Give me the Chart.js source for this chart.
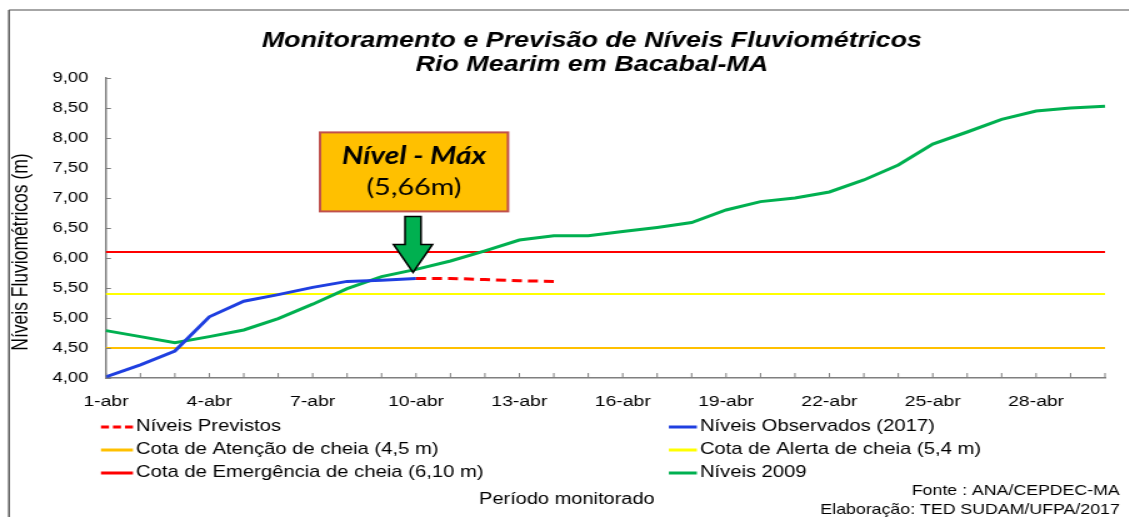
<!DOCTYPE html>
<html>
<head>
<meta charset="utf-8">
<script src="https://cdn.jsdelivr.net/npm/chart.js@4.4.1/dist/chart.umd.min.js"></script>
<style>
  html, body { margin: 0; padding: 0; background: #fff; overflow: hidden; }
  #wrap { width: 1129px; height: 517px; overflow: hidden; }
  /* the original picture is stretched sideways, so the canvas is too */
  #grafico { transform: scaleX(1.25); transform-origin: 0 0; }
</style>
</head>
<body>
<div id="wrap"><canvas id="grafico" width="903" height="517"></canvas></div>
<script>
const SX = 1129 / 903;
const FONTE = '"Liberation Sans", Arial, sans-serif';

// Dados
const dias = ['1-abr', '2-abr', '3-abr', '4-abr', '5-abr', '6-abr', '7-abr', '8-abr', '9-abr', '10-abr',
    '11-abr', '12-abr', '13-abr', '14-abr', '15-abr', '16-abr', '17-abr', '18-abr', '19-abr', '20-abr',
    '21-abr', '22-abr', '23-abr', '24-abr', '25-abr', '26-abr', '27-abr', '28-abr', '29-abr', '30-abr'];

const niveis2009 = [4.79, 4.69, 4.59, 4.69, 4.80, 4.99, 5.23, 5.49, 5.69, 5.81,
    5.95, 6.12, 6.30, 6.37, 6.37, 6.44, 6.51, 6.59, 6.80, 6.94,
    7.00, 7.10, 7.30, 7.55, 7.90, 8.10, 8.31, 8.45, 8.50, 8.53];

const observados2017 = [4.02, 4.22, 4.45, 5.02, 5.28, 5.39, 5.51, 5.61, 5.63, 5.66,
    null, null, null, null, null, null, null, null, null, null,
    null, null, null, null, null, null, null, null, null, null];

const previstos = [null, null, null, null, null, null, null, null, null, 5.66,
    5.66, 5.64, 5.62, 5.61, null, null, null, null, null, null,
    null, null, null, null, null, null, null, null, null, null];

const cotaAtencao = 4.5;
const cotaAlerta = 5.4;
const cotaEmergencia = 6.10;

const eixoMin = 4, eixoMax = 9, eixoPasso = 0.5;

const diaMax = '10-abr';
const nivelMax = 5.66;

// real (picture) x -> canvas x
const rx = x => x / SX;

function linhaCota(valor) {
    return [{ x: dias[0], y: valor }, { x: dias[dias.length - 1], y: valor }];
}

// Frame, titles, inner ticks, legend, notes and the "Nível - Máx" callout
const extras = {
    id: 'extras',
    beforeDraw(chart) {
        const ctx = chart.ctx;
        ctx.save();
        ctx.fillStyle = '#fff';
        ctx.fillRect(0, 0, chart.width, chart.height);
        ctx.strokeStyle = '#a6a6a6';
        ctx.lineWidth = 2;
        ctx.beginPath();
        ctx.moveTo(rx(9), 10);
        ctx.lineTo(chart.width, 10);
        ctx.stroke();
        ctx.strokeStyle = '#595959';
        ctx.lineWidth = 1.5;
        ctx.beginPath();
        ctx.moveTo(rx(9), 10);
        ctx.lineTo(rx(9), chart.height);
        ctx.stroke();
        ctx.restore();
    },
    afterDraw(chart) {
        const ctx = chart.ctx;
        const xs = chart.scales.x, ys = chart.scales.y;
        const area = chart.chartArea;
        ctx.save();

        // title
        ctx.fillStyle = '#000';
        ctx.textAlign = 'center';
        ctx.textBaseline = 'middle';
        ctx.font = 'italic bold 21.5px ' + FONTE;
        ctx.fillText('Monitoramento e Previsão de Níveis Fluviométricos', rx(592), 41);
        ctx.fillText('Rio Mearim em Bacabal-MA', rx(592), 65);

        // y axis title
        ctx.save();
        ctx.translate(rx(22), 252);
        ctx.rotate(-Math.PI / 2);
        ctx.font = '17.5px ' + FONTE;
        ctx.fillText('Níveis Fluviométricos (m)', 0, 0);
        ctx.restore();

        // tick marks pointing into the plot
        ctx.strokeStyle = '#7f7f7f';
        ctx.lineWidth = 1;
        ctx.beginPath();
        ys.ticks.forEach((t, i) => {
            const y = Math.round(ys.getPixelForTick(i)) + 0.5;
            ctx.moveTo(area.left, y);
            ctx.lineTo(area.left + rx(5), y);
        });
        xs.ticks.forEach((t, i) => {
            const x = xs.getPixelForTick(i);
            ctx.moveTo(x, area.bottom);
            ctx.lineTo(x, area.bottom - 5);
        });
        ctx.stroke();

        // legend, two columns
        const ordem = [0, 1, 2, 3, 4, 5];
        const colunas = [{ l: 101, t: 136 }, { l: 669, t: 700 }];
        const linhas = [427, 450, 473];
        ctx.font = '16.2px ' + FONTE;
        ctx.textAlign = 'left';
        ordem.forEach((idx, k) => {
            const ds = chart.data.datasets[idx];
            const c = colunas[k % 2];
            const y = linhas[Math.floor(k / 2)];
            ctx.strokeStyle = ds.borderColor;
            ctx.lineWidth = 3;
            ctx.setLineDash(ds.borderDash ? [rx(8), rx(4)] : []);
            ctx.beginPath();
            ctx.moveTo(rx(c.l), y);
            ctx.lineTo(rx(c.t - 3), y);
            ctx.stroke();
            ctx.setLineDash([]);
            ctx.fillStyle = '#000';
            ctx.fillText(ds.label, rx(c.t), y);
        });

        // notes
        ctx.font = '16px ' + FONTE;
        ctx.textAlign = 'center';
        ctx.fillText('Período monitorado', rx(567), 500);
        ctx.font = '14.2px ' + FONTE;
        ctx.textAlign = 'right';
        ctx.fillText('Fonte : ANA/CEPDEC-MA', rx(1120), 491);
        ctx.fillText('Elaboração: TED SUDAM/UFPA/2017', rx(1120), 510);

        // callout box with arrow to the maximum observed level
        const px = xs.getPixelForValue(dias.indexOf(diaMax));
        const py = ys.getPixelForValue(nivelMax);
        const tipY = py - 6;
        const cx = px - rx(3);
        ctx.fillStyle = '#00b050';
        ctx.strokeStyle = '#000';
        ctx.lineWidth = 1.5;
        ctx.beginPath();
        ctx.moveTo(cx, tipY);
        ctx.lineTo(cx - rx(19.5), tipY - 28);
        ctx.lineTo(cx - rx(8), tipY - 28);
        ctx.lineTo(cx - rx(8), tipY - 56);
        ctx.lineTo(cx + rx(8), tipY - 56);
        ctx.lineTo(cx + rx(8), tipY - 28);
        ctx.lineTo(cx + rx(19.5), tipY - 28);
        ctx.closePath();
        ctx.fill();
        ctx.stroke();

        const bw = rx(188), bh = 79;
        const bx = px - rx(2) - bw / 2;
        const by = tipY - 61 - bh;
        ctx.fillStyle = '#ffc000';
        ctx.fillRect(bx, by, bw, bh);
        ctx.strokeStyle = '#c0504d';
        ctx.lineWidth = 2;
        ctx.strokeRect(bx, by, bw, bh);
        ctx.fillStyle = '#000';
        ctx.textAlign = 'center';
        ctx.textBaseline = 'middle';
        ctx.font = 'italic bold 24px Lato, "Open Sans", sans-serif';
        ctx.fillText('Nível - Máx', bx + bw / 2, by + 24);
        ctx.font = '23px Lato, "Open Sans", sans-serif';
        ctx.fillText('(5,66m)', bx + bw / 2, by + 55);

        ctx.restore();
    }
};

new Chart(document.getElementById('grafico'), {
    type: 'line',
    data: {
        labels: dias,
        datasets: [
            {
                label: 'Níveis Previstos',
                data: previstos,
                borderColor: '#ff0000',
                borderWidth: 3,
                borderDash: [rx(10), rx(6)],
                order: 0
            },
            {
                label: 'Níveis Observados (2017)',
                data: observados2017,
                borderColor: '#1f3fe0',
                borderWidth: 3,
                order: 1
            },
            {
                label: 'Cota de Atenção de cheia (4,5 m)',
                data: linhaCota(cotaAtencao),
                borderColor: '#ffc000',
                borderWidth: 2,
                order: 5
            },
            {
                label: 'Cota de Alerta de cheia (5,4 m)',
                data: linhaCota(cotaAlerta),
                borderColor: '#ffff00',
                borderWidth: 2,
                order: 4
            },
            {
                label: 'Cota de Emergência de cheia (6,10 m)',
                data: linhaCota(cotaEmergencia),
                borderColor: '#ff0000',
                borderWidth: 2,
                order: 3
            },
            {
                label: 'Níveis 2009',
                data: niveis2009,
                borderColor: '#00b050',
                borderWidth: 3,
                order: 2
            }
        ]
    },
    options: {
        responsive: false,
        animation: false,
        spanGaps: false,
        elements: {
            point: { radius: 0, hoverRadius: 0 },
            line: { tension: 0, fill: false }
        },
        layout: { padding: { top: 78, right: 19, bottom: 0, left: 0 } },
        plugins: {
            legend: { display: false },
            title: { display: false },
            tooltip: { enabled: false }
        },
        scales: {
            x: {
                type: 'category',
                offset: false,
                grid: { display: false, drawTicks: false },
                border: { display: true, color: '#7f7f7f', width: 1.5 },
                ticks: {
                    autoSkip: false,
                    maxRotation: 0,
                    padding: 14,
                    color: '#000',
                    font: { family: FONTE, size: 15.5 },
                    callback: function (v, i) {
                        return i % 3 === 0 ? this.getLabelForValue(v) : '';
                    }
                },
                afterFit: scale => { scale.height = 139; }
            },
            y: {
                min: eixoMin,
                max: eixoMax,
                grid: { display: false, drawTicks: false },
                border: { display: true, color: '#7f7f7f', width: 1.5 },
                ticks: {
                    stepSize: eixoPasso,
                    padding: 14,
                    color: '#000',
                    font: { family: FONTE, size: 14.8 },
                    callback: v => v.toFixed(2).replace('.', ',')
                },
                afterFit: scale => { scale.width = rx(106); }
            }
        }
    },
    plugins: [extras]
});
</script>
</body>
</html>
